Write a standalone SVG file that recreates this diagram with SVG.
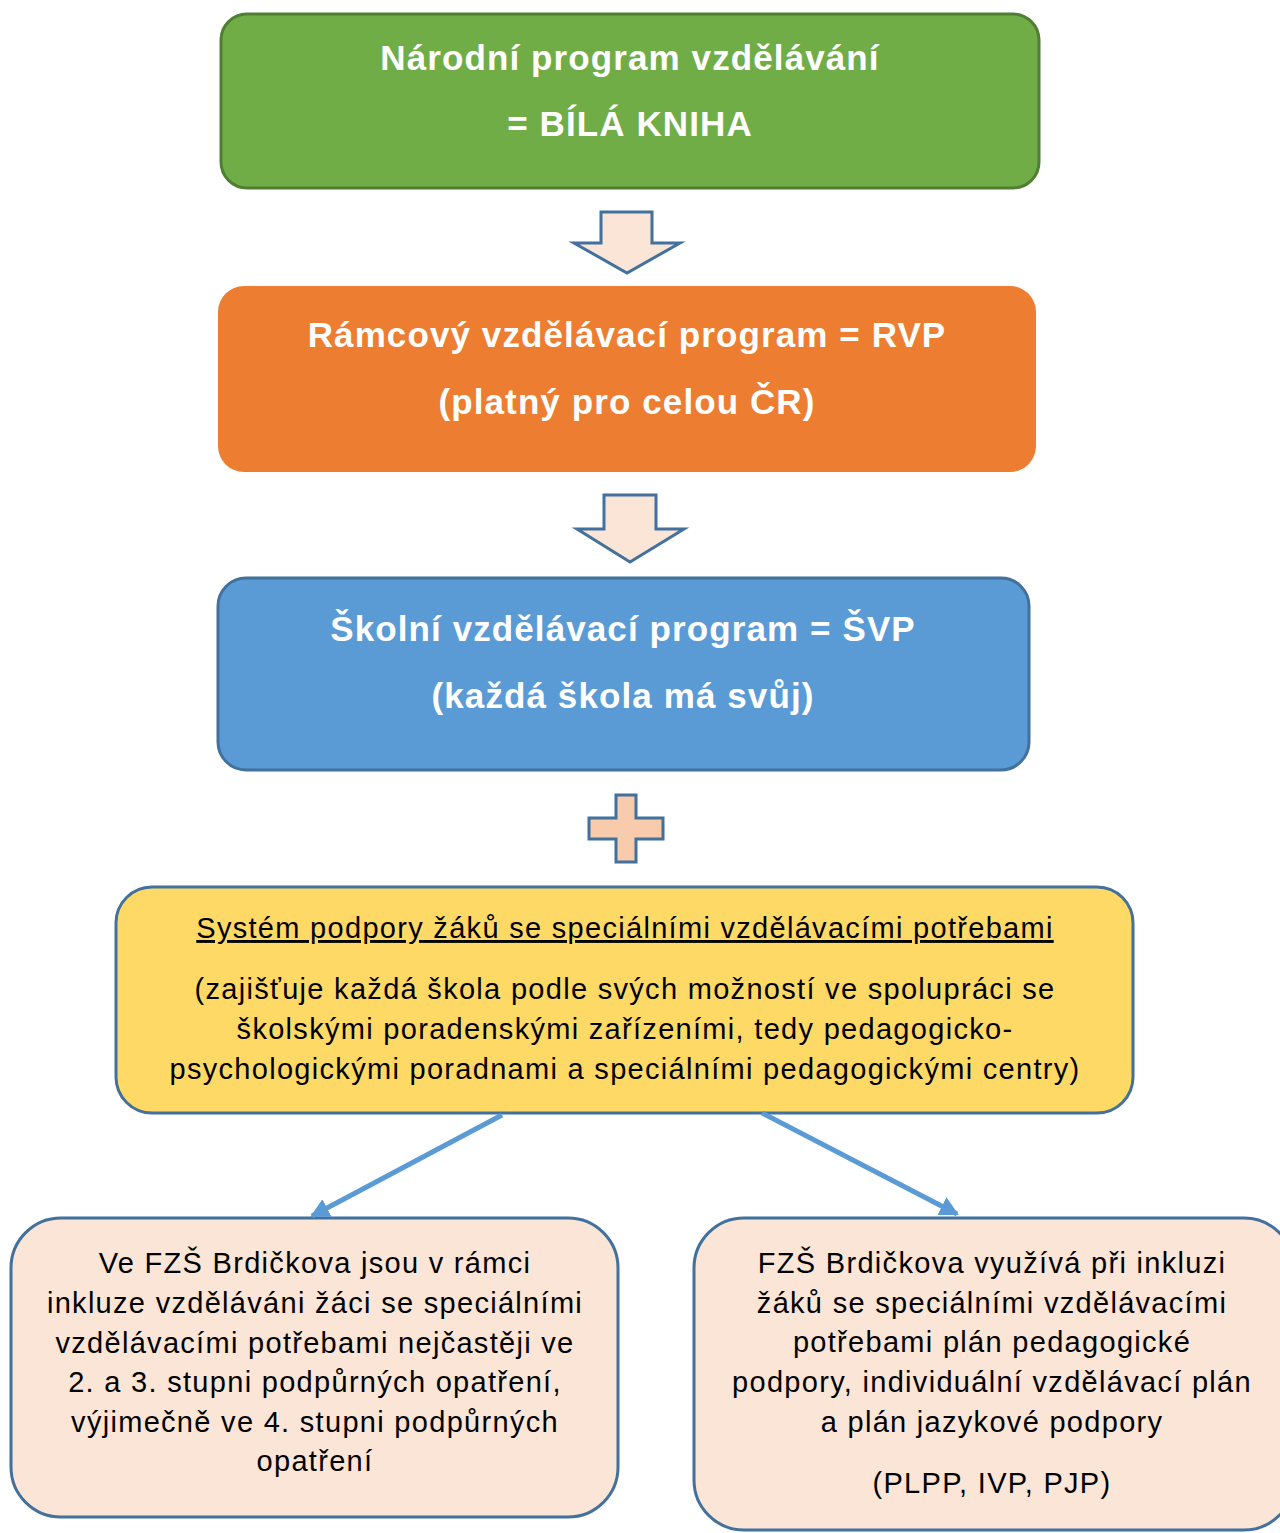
<svg xmlns="http://www.w3.org/2000/svg" width="1280" height="1533" viewBox="0 0 1280 1533">
<style>
.h{font-family:"Liberation Sans",Arial,sans-serif;font-weight:bold;font-size:35px;letter-spacing:1.1px;fill:#ffffff;text-anchor:middle}
.t{font-family:"Liberation Sans",Arial,sans-serif;font-size:29px;letter-spacing:1.3px;fill:#000000;text-anchor:middle}
.blk{stroke:#41719c;stroke-width:3}
.conn{stroke:#5b9bd5;stroke-width:5;fill:none}
</style>
<defs>
<marker id="ah" markerWidth="19" markerHeight="20" refX="17" refY="10" orient="auto" markerUnits="userSpaceOnUse">
<path d="M0,0 L19,10 L0,20 z" fill="#5b9bd5"/>
</marker>
</defs>
<rect width="1280" height="1533" fill="#ffffff"/>
<g id="n1">
<rect x="221" y="14" width="818" height="174" rx="26" fill="#70ad47" stroke="#507e32" stroke-width="3"/>
<text class="h" x="630" y="70">Národní program vzdělávání</text>
<text class="h" x="630" y="136">= BÍLÁ KNIHA</text>
</g>
<g id="a1">
<polygon points="601,212 652,212 652,243 680,243 627,273 574,243 601,243" fill="#fbe5d6" class="blk"/>
</g>
<g id="n2">
<rect x="218" y="286" width="818" height="186" rx="26" fill="#ed7d31"/>
<text class="h" x="627" y="347">Rámcový vzdělávací program = RVP</text>
<text class="h" x="627" y="414">(platný pro celou ČR)</text>
</g>
<g id="a2">
<polygon points="604,495 656,495 656,529 684,529 630,562 577,529 604,529" fill="#fbe5d6" class="blk"/>
</g>
<g id="n3">
<rect x="218" y="578" width="811" height="192" rx="28" fill="#5b9bd5" class="blk"/>
<text class="h" x="623" y="641">Školní vzdělávací program = ŠVP</text>
<text class="h" x="623" y="708">(každá škola má svůj)</text>
</g>
<g id="plus">
<polygon points="616,795 636,795 636,818 663,818 663,839 636,839 636,862 616,862 616,839 589,839 589,818 616,818" fill="#f8cbad" class="blk"/>
</g>
<g id="n4">
<rect x="116" y="887" width="1017" height="226" rx="36" fill="#ffd966" class="blk"/>
<text class="t" x="625" y="938" text-decoration="underline">Systém podpory žáků se speciálními vzdělávacími potřebami</text>
<text class="t" x="625" y="999">(zajišťuje každá škola podle svých možností ve spolupráci se</text>
<text class="t" x="625" y="1039">školskými poradenskými zařízeními, tedy pedagogicko-</text>
<text class="t" x="625" y="1079">psychologickými poradnami a speciálními pedagogickými centry)</text>
</g>
<g id="n5">
<rect x="11" y="1218" width="607" height="299" rx="50" fill="#fbe5d6" class="blk"/>
<text class="t" x="315" y="1273">Ve FZŠ Brdičkova jsou v rámci</text>
<text class="t" x="315" y="1313">inkluze vzděláváni žáci se speciálními</text>
<text class="t" x="315" y="1353">vzdělávacími potřebami nejčastěji ve</text>
<text class="t" x="315" y="1392">2. a 3. stupni podpůrných opatření,</text>
<text class="t" x="315" y="1432">výjimečně ve 4. stupni podpůrných</text>
<text class="t" x="315" y="1471">opatření</text>
</g>
<g id="n6">
<rect x="694" y="1218" width="600" height="312" rx="50" fill="#fbe5d6" class="blk"/>
<text class="t" x="992" y="1273">FZŠ Brdičkova využívá při inkluzi</text>
<text class="t" x="992" y="1313">žáků se speciálními vzdělávacími</text>
<text class="t" x="992" y="1352">potřebami plán pedagogické</text>
<text class="t" x="992" y="1392">podpory, individuální vzdělávací plán</text>
<text class="t" x="992" y="1432">a plán jazykové podpory</text>
<text class="t" x="992" y="1493">(PLPP, IVP, PJP)</text>
</g>
<g id="connectors">
<line class="conn" x1="502" y1="1115" x2="312" y2="1216" marker-end="url(#ah)"/>
<line class="conn" x1="762" y1="1113" x2="957" y2="1214" marker-end="url(#ah)"/>
</g>
</svg>
